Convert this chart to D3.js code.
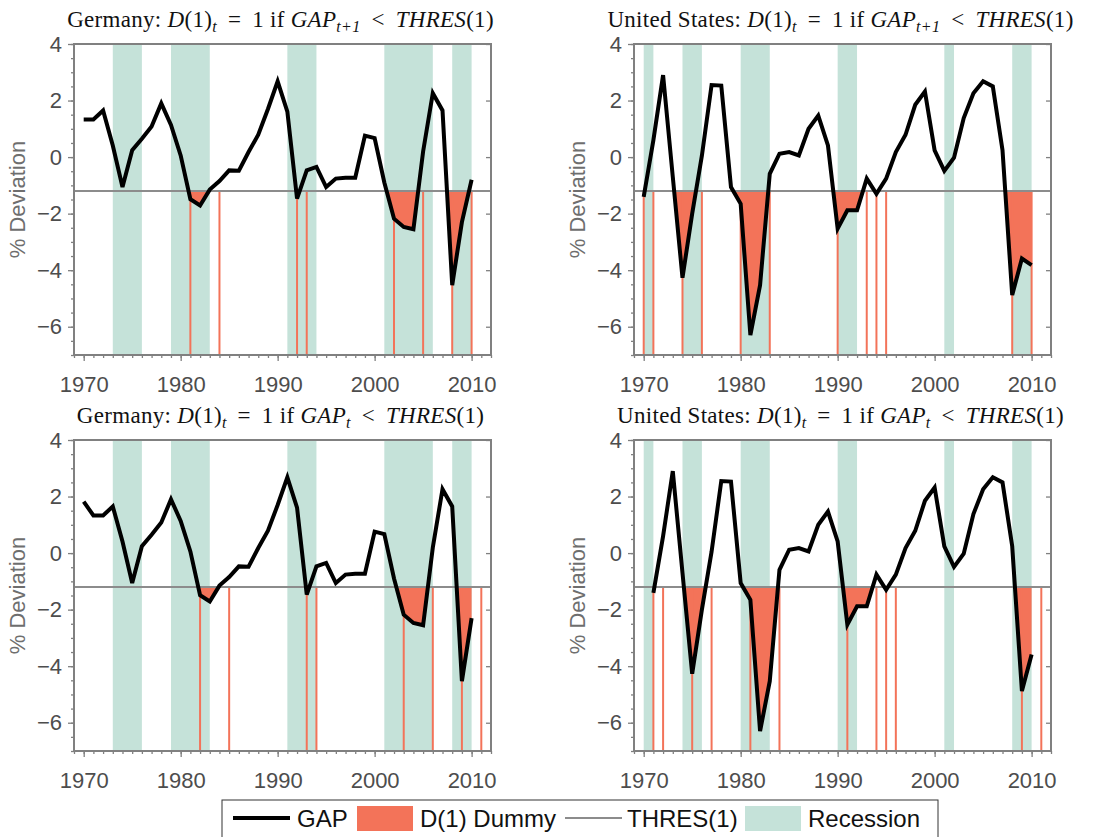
<!DOCTYPE html>
<html lang="en">
<head>
<meta charset="UTF-8">
<title>GAP and D(1) dummy: Germany and United States</title>
<script src="https://cdn.jsdelivr.net/npm/d3@7"></script>
<style>
  body { margin: 0; background: #fff; }
  svg text { font-family: "Liberation Sans", Arial, sans-serif; }
</style>
</head>
<body>
<svg id="chart" width="1120" height="837"></svg>
<script>
// output gap, % deviation, one value per year
const germanyStart = 1970
const germanyGap = [1.82, 1.33, 1.33, 1.65, 0.41, -1.06, 0.24, 0.65, 1.08, 1.9,
  1.14, 0.06, -1.49, -1.71, -1.15, -0.85, -0.47, -0.48, 0.18, 0.79,
  1.7, 2.68, 1.61, -1.47, -0.47, -0.35, -1.06, -0.76, -0.73, -0.73,
  0.76, 0.67, -0.9, -2.18, -2.47, -2.55, 0.2, 2.26, 1.65, -4.53,
  -2.3, -0.8]
const usStart = 1971
const usGap = [-1.41, 0.6, 2.9, -0.7, -4.27, -2.0, 0.05, 2.55, 2.53,
  -1.06, -1.65, -6.3, -4.53, -0.59, 0.12, 0.18, 0.06, 1.0, 1.47,
  0.41, -2.53, -1.88, -1.88, -0.76, -1.3, -0.76, 0.18, 0.79, 1.85,
  2.32, 0.24, -0.49, -0.02, 1.38, 2.26, 2.68, 2.5, 0.24, -4.88,
  -3.59, -3.82]
const threshold = -1.2

const germanyRecessions = [[1973, 1976], [1979, 1983], [1991, 1994], [2001, 2006], [2008, 2010]]
const usRecessions = [[1970, 1971], [1974, 1976], [1980, 1983], [1990, 1992], [2001, 2002], [2008, 2010]]

// edges of the D(1)=1 episodes
const germanyLeadEdges = [1981, 1984, 1992, 1993, 2002, 2005, 2008, 2010]
const germanyEdges = [1982, 1985, 1993, 1994, 2003, 2006, 2009, 2011]
const usLeadEdges = [1970, 1971, 1974, 1976, 1980, 1983, 1990, 1993, 1994, 1995, 2008, 2010]
const usEdges = [1971, 1972, 1975, 1977, 1981, 1984, 1991, 1994, 1995, 1996, 2009, 2011]

const xTicks = [1970, 1980, 1990, 2000, 2010]
const yTicks = [-6, -4, -2, 0, 2, 4]

const red = '#f37359'
const teal = '#c5e2d9'
const grey = '#8c8c8c'

// value at t is GAP_{t+lead}
function series(start, values, lead, from, to) {
  const out = []
  for (let t = from; t <= to; t++) {
    const v = values[t + lead - start]
    if (v !== undefined) out.push({ year: t, value: v })
  }
  return out
}

const panels = [
  { country: 'Germany', sub: 't+1', x0: 74, y0: 44, data: series(germanyStart, germanyGap, 1, 1970, 2010), rec: germanyRecessions, edges: germanyLeadEdges },
  { country: 'United States', sub: 't+1', x0: 634, y0: 44, data: series(usStart, usGap, 1, 1970, 2010), rec: usRecessions, edges: usLeadEdges },
  { country: 'Germany', sub: 't', x0: 74, y0: 440, data: series(germanyStart, germanyGap, 0, 1970, 2010), rec: germanyRecessions, edges: germanyEdges },
  { country: 'United States', sub: 't', x0: 634, y0: 440, data: series(usStart, usGap, 0, 1970, 2010), rec: usRecessions, edges: usEdges }
]

const w = 417, h = 311
const svg = d3.select('#chart')

const x = d3.scaleLinear().domain([1969, 2012]).range([0, w])
const y = d3.scaleLinear().domain([-7, 4]).range([h, 0])

panels.forEach((p, i) => {
  const g = svg.append('g').attr('transform', `translate(${p.x0},${p.y0})`)

  g.append('clipPath').attr('id', 'below' + i)
    .append('rect')
    .attr('x', 0).attr('y', y(threshold))
    .attr('width', w).attr('height', h - y(threshold))

  g.selectAll('.rec').data(p.rec).join('rect')
    .attr('x', d => x(d[0]))
    .attr('width', d => x(d[1]) - x(d[0]))
    .attr('y', 0).attr('height', h)
    .attr('fill', teal)

  const area = d3.area()
    .x(d => x(d.year))
    .y0(y(threshold))
    .y1(d => y(d.value))
  g.append('path').datum(p.data)
    .attr('d', area)
    .attr('fill', red)
    .attr('clip-path', `url(#below${i})`)

  g.selectAll('.edge').data(p.edges).join('line')
    .attr('x1', d => x(d)).attr('x2', d => x(d))
    .attr('y1', y(threshold)).attr('y2', h)
    .attr('stroke', red).attr('stroke-width', 2)

  g.append('line')
    .attr('x1', 0).attr('x2', w)
    .attr('y1', y(threshold)).attr('y2', y(threshold))
    .attr('stroke', grey).attr('stroke-width', 2)

  const line = d3.line().x(d => x(d.year)).y(d => y(d.value))
  g.append('path').datum(p.data)
    .attr('d', line)
    .attr('fill', 'none')
    .attr('stroke', '#000')
    .attr('stroke-width', 4)

  // axes
  const minorX = d3.range(1969, 2013)
  const minorY = d3.range(-7, 4.01, 0.5)
  g.append('g').attr('transform', `translate(0,${h})`)
    .call(d3.axisBottom(x).tickValues(minorX).tickSize(3).tickFormat(''))
  g.append('g').attr('transform', `translate(0,${h})`)
    .call(d3.axisBottom(x).tickValues(xTicks).tickSize(6).tickPadding(15).tickFormat(d3.format('d')))
  g.append('g')
    .call(d3.axisLeft(y).tickValues(minorY).tickSize(3).tickFormat(''))
  g.append('g')
    .call(d3.axisLeft(y).tickValues(yTicks).tickSize(6).tickPadding(6))
  g.append('g').attr('transform', `translate(${w},0)`)
    .call(d3.axisRight(y).tickValues(yTicks).tickSize(-5).tickFormat(''))

  g.selectAll('.domain').remove()
  g.selectAll('.tick line').attr('stroke', '#808080').attr('stroke-width', 1.3)
  g.selectAll('.tick text')
    .attr('fill', '#4d4d4d')
    .style('font-size', '22px')

  g.append('rect')
    .attr('width', w).attr('height', h)
    .attr('fill', 'none')
    .attr('stroke', '#808080').attr('stroke-width', 2)

  g.append('text')
    .attr('transform', `translate(-49,${h / 2}) rotate(-90)`)
    .attr('text-anchor', 'middle')
    .attr('fill', '#6e6e6e')
    .style('font-size', '22px')
    .text('% Deviation')

  // title with math parts
  const t = g.append('text')
    .attr('x', w / 2 - 2).attr('y', -17)
    .attr('text-anchor', 'middle')
    .attr('fill', '#111')
    .style('font-family', '"Liberation Serif", "DejaVu Serif", serif')
    .style('font-size', '23px')
    .style('letter-spacing', '0.3px')
  const parts = [
    [p.country + ': ', 'normal'],
    ['D', 'italic'], ['(1)', 'normal'], ['t', 'italic', 'sub'],
    ['\u2009 = \u20091 if ', 'normal'],
    ['GAP', 'italic'], [p.sub, 'italic', 'sub'],
    ['\u2009 < \u2009', 'normal'],
    ['THRES', 'italic'], ['(1)', 'normal']
  ]
  let shifted = false
  parts.forEach(([txt, style, pos]) => {
    const s = t.append('tspan').attr('font-style', style).text(txt)
    if (pos === 'sub') {
      s.attr('dy', 5).style('font-size', '16px')
      shifted = true
    } else if (shifted) {
      s.attr('dy', -5)
      shifted = false
    }
  })
})

// legend
const lg = svg.append('g').attr('transform', 'translate(222,800)')
lg.append('rect')
  .attr('width', 716).attr('height', 50)
  .attr('fill', '#fff').attr('stroke', '#333').attr('stroke-width', 1)

const legendItems = [
  { label: 'GAP', kind: 'line', color: '#000', width: 4, x: 11, tx: 75 },
  { label: 'D(1) Dummy', kind: 'rect', color: red, x: 135, tx: 198 },
  { label: 'THRES(1)', kind: 'line', color: grey, width: 2, x: 343, tx: 405 },
  { label: 'Recession', kind: 'rect', color: teal, x: 523, tx: 586 }
]
legendItems.forEach(d => {
  if (d.kind === 'line') {
    lg.append('line')
      .attr('x1', d.x).attr('x2', d.x + 57)
      .attr('y1', 18).attr('y2', 18)
      .attr('stroke', d.color).attr('stroke-width', d.width)
  } else {
    lg.append('rect')
      .attr('x', d.x).attr('y', 6)
      .attr('width', 56).attr('height', 25)
      .attr('fill', d.color)
  }
  lg.append('text')
    .attr('x', d.tx).attr('y', 27)
    .attr('fill', '#111')
    .style('font-size', '24px')
    .text(d.label)
})
</script>
</body>
</html>
